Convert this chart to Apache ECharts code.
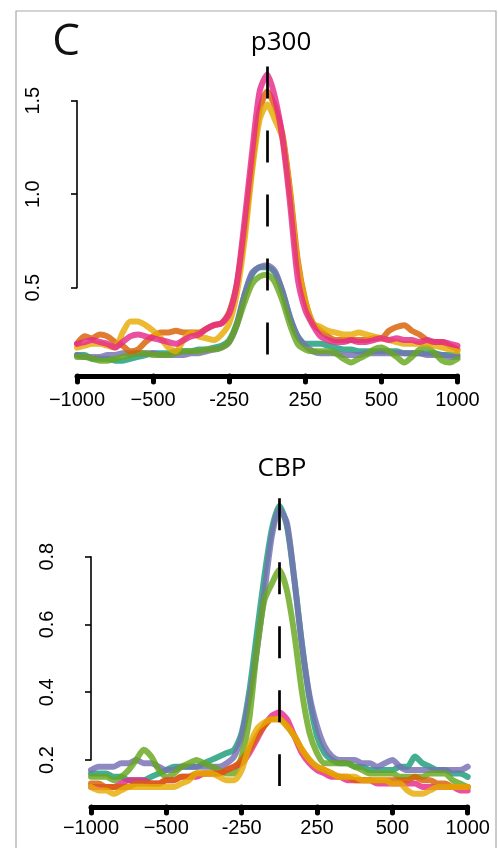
<!DOCTYPE html>
<html>
<head>
<meta charset="utf-8">
<script src="https://cdn.jsdelivr.net/npm/echarts@6/dist/echarts.min.js"></script>
<style>
html,body{margin:0;padding:0;background:#fff;}
#chart{width:498px;height:848px;}
</style>
</head>
<body>
<div id="chart"></div>
<script>
// ---- data ----
const tickLabels = ['\u22121000', '\u2212500', '-250', '250', '500', '1000'];
const panelTitles = ['p300', 'CBP'];
const panelLetter = 'C';
const centerIndex = 25;
const p300DashRange = [1.683, 0.142];
const cbpDashRange = [0.972, 0.123];
const p300Ticks = [0.5, 1.5];
const cbpTicks = [0.2, 0.8];

// p300 panel (51 bins across -1000..1000)
const p300Teal   = [0.14,0.14,0.12,0.12,0.12,0.11,0.11,0.12,0.13,0.14,0.15,0.15,0.15,0.16,0.16,0.16,0.17,0.17,0.18,0.19,0.22,0.31,0.46,0.57,0.61,0.61,0.58,0.48,0.34,0.24,0.2,0.2,0.2,0.19,0.18,0.17,0.17,0.16,0.16,0.16,0.16,0.16,0.16,0.15,0.15,0.15,0.15,0.15,0.14,0.14,0.14];
const p300Purple = [0.14,0.13,0.13,0.13,0.14,0.14,0.15,0.15,0.15,0.15,0.15,0.14,0.14,0.14,0.14,0.15,0.15,0.16,0.17,0.18,0.21,0.3,0.46,0.58,0.61,0.62,0.59,0.48,0.34,0.24,0.19,0.16,0.15,0.15,0.15,0.14,0.14,0.14,0.15,0.15,0.15,0.15,0.15,0.15,0.15,0.15,0.14,0.14,0.14,0.13,0.13];
const p300Green  = [0.13,0.13,0.12,0.11,0.11,0.12,0.13,0.14,0.15,0.15,0.14,0.14,0.14,0.15,0.16,0.16,0.16,0.17,0.17,0.18,0.21,0.3,0.42,0.52,0.56,0.57,0.53,0.43,0.3,0.2,0.17,0.16,0.16,0.16,0.15,0.12,0.1,0.12,0.14,0.17,0.18,0.16,0.13,0.1,0.13,0.17,0.18,0.15,0.11,0.1,0.12];
const p300Orange = [0.2,0.24,0.23,0.25,0.24,0.21,0.19,0.16,0.17,0.21,0.24,0.26,0.26,0.27,0.26,0.26,0.26,0.28,0.3,0.31,0.37,0.52,0.8,1.15,1.45,1.55,1.47,1.32,1.02,0.65,0.43,0.31,0.27,0.24,0.22,0.22,0.22,0.22,0.22,0.23,0.23,0.27,0.29,0.3,0.27,0.25,0.22,0.21,0.21,0.19,0.17];
const p300Yellow = [0.18,0.19,0.2,0.2,0.19,0.18,0.26,0.32,0.32,0.3,0.27,0.23,0.18,0.16,0.22,0.26,0.24,0.23,0.22,0.25,0.31,0.47,0.75,1.12,1.4,1.48,1.4,1.3,1.0,0.63,0.43,0.31,0.29,0.27,0.26,0.25,0.25,0.26,0.25,0.24,0.23,0.22,0.21,0.2,0.2,0.2,0.2,0.19,0.18,0.17,0.16];
const p300Pink   = [0.2,0.21,0.22,0.21,0.2,0.18,0.21,0.24,0.25,0.24,0.23,0.22,0.21,0.2,0.22,0.24,0.25,0.28,0.3,0.31,0.36,0.52,0.85,1.22,1.55,1.64,1.52,1.3,0.95,0.55,0.38,0.3,0.24,0.22,0.21,0.21,0.22,0.21,0.21,0.22,0.23,0.22,0.23,0.22,0.22,0.21,0.22,0.21,0.21,0.2,0.19];

// CBP panel
const cbpTeal   = [0.16,0.16,0.16,0.15,0.15,0.14,0.14,0.14,0.15,0.16,0.17,0.18,0.18,0.18,0.18,0.19,0.2,0.21,0.22,0.23,0.28,0.4,0.57,0.74,0.88,0.95,0.89,0.73,0.54,0.38,0.27,0.22,0.2,0.19,0.19,0.18,0.18,0.17,0.17,0.17,0.17,0.18,0.18,0.21,0.19,0.18,0.17,0.17,0.16,0.16,0.15];
const cbpPurple = [0.17,0.18,0.18,0.18,0.19,0.19,0.2,0.19,0.19,0.18,0.17,0.17,0.18,0.18,0.18,0.18,0.18,0.18,0.19,0.21,0.27,0.38,0.52,0.69,0.86,0.94,0.9,0.73,0.54,0.39,0.3,0.24,0.21,0.2,0.2,0.2,0.19,0.19,0.18,0.19,0.2,0.18,0.17,0.17,0.17,0.17,0.17,0.17,0.17,0.17,0.18];
const cbpGreen  = [0.15,0.15,0.15,0.14,0.15,0.17,0.2,0.23,0.21,0.17,0.15,0.16,0.18,0.19,0.2,0.19,0.18,0.17,0.16,0.16,0.21,0.32,0.52,0.67,0.72,0.76,0.7,0.57,0.4,0.28,0.22,0.19,0.19,0.19,0.19,0.18,0.17,0.16,0.16,0.16,0.16,0.15,0.15,0.15,0.15,0.16,0.16,0.16,0.14,0.13,0.12];
const cbpPink   = [0.12,0.12,0.12,0.12,0.13,0.14,0.14,0.14,0.13,0.13,0.14,0.14,0.15,0.15,0.15,0.16,0.16,0.16,0.17,0.18,0.19,0.22,0.26,0.3,0.33,0.34,0.32,0.27,0.22,0.19,0.17,0.16,0.15,0.15,0.14,0.14,0.14,0.14,0.13,0.13,0.13,0.13,0.13,0.13,0.12,0.12,0.12,0.12,0.12,0.11,0.11];
const cbpOrange = [0.13,0.13,0.12,0.12,0.12,0.12,0.13,0.13,0.13,0.13,0.14,0.14,0.15,0.15,0.16,0.16,0.16,0.16,0.17,0.18,0.2,0.23,0.27,0.3,0.32,0.32,0.3,0.27,0.23,0.2,0.18,0.17,0.16,0.15,0.15,0.14,0.14,0.14,0.14,0.14,0.14,0.14,0.14,0.15,0.14,0.14,0.13,0.13,0.12,0.12,0.12];
const cbpYellow = [0.12,0.11,0.11,0.1,0.11,0.12,0.12,0.12,0.12,0.12,0.12,0.12,0.13,0.14,0.16,0.16,0.16,0.15,0.14,0.14,0.17,0.24,0.29,0.31,0.32,0.32,0.3,0.27,0.23,0.2,0.18,0.17,0.16,0.15,0.15,0.15,0.14,0.14,0.14,0.14,0.13,0.13,0.11,0.1,0.1,0.11,0.12,0.12,0.12,0.12,0.12];

const colTeal = '#1b9e77', colPurple = '#7570b3', colGreen = '#66a61e',
      colOrange = '#d95f02', colYellow = '#e6ab02', colPink = '#e7298a';

const p300Series = [
  [p300Teal, colTeal], [p300Purple, colPurple], [p300Green, colGreen],
  [p300Orange, colOrange], [p300Yellow, colYellow], [p300Pink, colPink]
];
const cbpSeries = [
  [cbpTeal, colTeal], [cbpPurple, colPurple], [cbpGreen, colGreen],
  [cbpPink, colPink], [cbpOrange, colOrange], [cbpYellow, colYellow]
];

// ---- chart ----
const chart = echarts.init(document.getElementById('chart'), null, {renderer: 'canvas'});
const labelFont = {fontFamily: 'Liberation Sans', fontSize: 20, color: '#000'};

function mainX(gridIndex, margin) {
  return {
    type: 'value', gridIndex: gridIndex, min: 0, max: 50, interval: 10,
    axisLine: {show: true, lineStyle: {color: '#000', width: 5, cap: 'round'}},
    axisTick: {show: true, length: 6, lineStyle: {color: '#000', width: 5, cap: 'round'}},
    axisLabel: Object.assign({margin: margin, formatter: v => tickLabels[Math.round(v / 10)]}, labelFont),
    splitLine: {show: false}
  };
}
function hiddenX(gridIndex) {
  return {type: 'value', gridIndex: gridIndex, min: 0, max: 50, show: false};
}
function hiddenY(gridIndex, min, max) {
  return {type: 'value', gridIndex: gridIndex, min: min, max: max, show: false, splitLine: {show: false}};
}
function tickY(gridIndex, ticks, interval) {
  return {
    type: 'value', gridIndex: gridIndex, min: ticks[0], max: ticks[1], interval: interval, offset: 15,
    axisLine: {show: true, lineStyle: {color: '#000', width: 1.6}},
    axisTick: {show: true, length: 6, lineStyle: {color: '#000', width: 1.6}},
    axisLabel: Object.assign({rotate: 90, margin: 19, formatter: v => v.toFixed(1)}, labelFont),
    splitLine: {show: false}
  };
}

function makeLines(list, axisIdx) {
  return list.map(([vals, color]) => ({
    type: 'line', xAxisIndex: axisIdx, yAxisIndex: axisIdx,
    data: vals.map((v, i) => [i, v]),
    showSymbol: false, symbol: 'none', silent: true, animation: false, smooth: 0.25,
    lineStyle: {color: color, width: 6, opacity: 0.82, cap: 'round', join: 'round'}
  }));
}
function dashSeries(axisIdx, range) {
  return {
    type: 'line', xAxisIndex: axisIdx, yAxisIndex: axisIdx, data: [], z: 10, animation: false,
    markLine: {
      silent: true, symbol: ['none', 'none'], animation: false, label: {show: false},
      lineStyle: {color: '#000', width: 2.7, type: [32, 32], opacity: 1},
      data: [[{coord: [centerIndex, range[0]]}, {coord: [centerIndex, range[1]]}]]
    }
  };
}

const option = {
  backgroundColor: '#fff',
  animation: false,
  title: [
    {text: panelLetter, left: 61, top: 15, textAlign: 'center',
     textStyle: {fontFamily: 'Open Sans', fontSize: 44, fontWeight: 'normal', color: '#111'}},
    {text: panelTitles[0], left: 276, top: 25, textAlign: 'center',
     textStyle: {fontFamily: 'Open Sans', fontSize: 26, fontWeight: 'normal', color: '#000'}},
    {text: panelTitles[1], left: 277, top: 451, textAlign: 'center',
     textStyle: {fontFamily: 'Open Sans', fontSize: 26, fontWeight: 'normal', color: '#000'}}
  ],
  graphic: [
    {type: 'rect', shape: {x: 16, y: 11, width: 480, height: 860}, silent: true,
     style: {fill: 'none', stroke: '#a9a9a9', lineWidth: 1.2}}
  ],
  grid: [
    {left: 77, right: 40.5, top: 60, bottom: 472},      // p300 data
    {left: 77, right: 40.5, top: 100.7, bottom: 560.3}, // p300 y axis segment
    {left: 91, right: 30.3, top: 489, bottom: 41},      // CBP data
    {left: 91, right: 30.3, top: 556.7, bottom: 88}     // CBP y axis segment
  ],
  xAxis: [mainX(0, 14), hiddenX(1), mainX(2, 11), hiddenX(3)],
  yAxis: [
    hiddenY(0, 0.028, 0.028 + (848 - 472 - 60) / 187),
    tickY(1, p300Ticks, 0.5),
    hiddenY(2, 0.061, 0.061 + (848 - 41 - 489) / 339),
    tickY(3, cbpTicks, 0.2)
  ],
  series: [].concat(
    makeLines(p300Series, 0),
    [dashSeries(0, p300DashRange)],
    makeLines(cbpSeries, 2),
    [dashSeries(2, cbpDashRange)]
  )
};
chart.setOption(option);
</script>
</body>
</html>
